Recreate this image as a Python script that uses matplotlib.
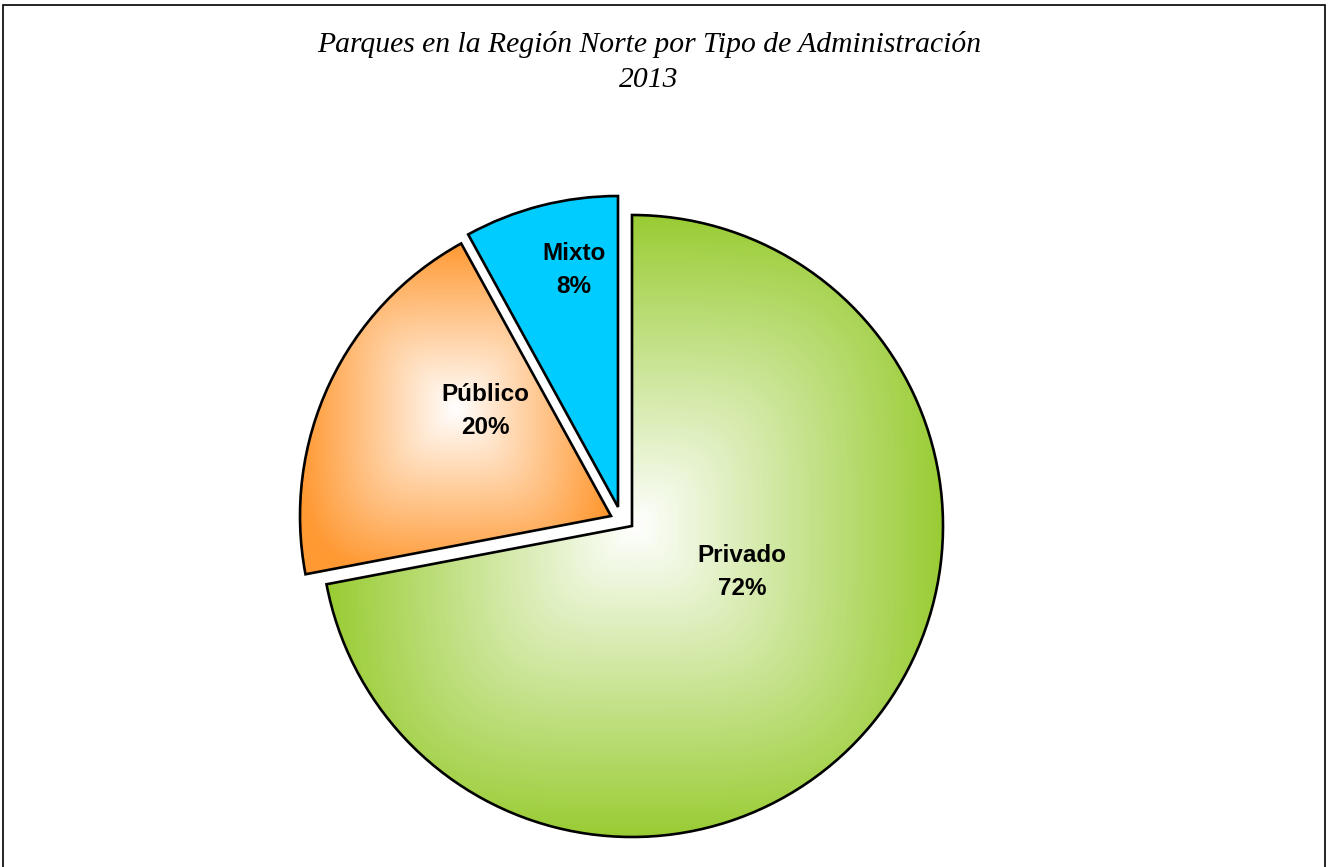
import matplotlib.pyplot as plt
from matplotlib.patches import Rectangle
import numpy as np


labels = ["Privado", "Público", "Mixto"]
shares = [72, 20, 8]
title_lines = ["Parques en la Región Norte por Tipo de Administración", "2013"]

# edge colour of each slice
edge_colors = ["#99CC33", "#FF9933", "#00CCFF"]
gradient = [True, True, False]

W, H = 1328, 867
CX, CY, R = 632, H - 526, 311
# pull-out of each slice, in pixels
shifts = [(0, 0), (-21, 10), (-14, 19)]
# label position relative to the slice centre
label_offsets = [(110, -46), (-126, 105), (-44, 237)]


def rect_gradient(ax, wedge, color):
    # white centre fading to the colour at the slice's bounding box
    ext = wedge.get_path().get_extents()
    x0, y0, x1, y1 = ext.x0, ext.y0, ext.x1, ext.y1
    xs = np.linspace(x0, x1, 400)
    ys = np.linspace(y0, y1, 400)
    X, Y = np.meshgrid(xs, ys)
    mx, my = (x0 + x1) / 2, (y0 + y1) / 2
    u = np.abs(X - mx) / ((x1 - x0) / 2)
    v = np.abs(Y - my) / ((y1 - y0) / 2)
    t = (u ** 4 + v ** 4) ** 0.25
    t = np.clip(t, 0, 1)[..., None]
    c = np.array(plt.matplotlib.colors.to_rgb(color))
    img = (1 - t) * np.ones(3) + t * c
    im = ax.imshow(img, extent=(x0, x1, y0, y1), origin="lower",
                   interpolation="bilinear", zorder=0)
    im.set_clip_path(wedge)


fig = plt.figure(figsize=(W / 100, H / 100), dpi=100)
ax = fig.add_axes([0, 0, 1, 1])

wedges, _ = ax.pie(shares, startangle=90, counterclock=False,
                   radius=R, center=(CX, CY), colors=edge_colors,
                   wedgeprops=dict(edgecolor="black", linewidth=1.9))

for w, (dx, dy), col, grad, lab, share, (lx, ly) in zip(
        wedges, shifts, edge_colors, gradient, labels, shares, label_offsets):
    w.set_center((CX + dx, CY + dy))
    w.set_zorder(2)
    if grad:
        w.set_facecolor("none")
        rect_gradient(ax, w, col)
    ax.text(CX + dx + lx, CY + dy + ly, f"{lab}\n{share}%", ha="center", va="center",
            fontsize=17.5, fontweight="bold", family="Liberation Sans",
            linespacing=1.55, zorder=3)

ax.set_xlim(0, W)
ax.set_ylim(0, H)
ax.set_aspect("equal")
ax.axis("off")

fig.text(649 / W, 1 - 45 / H, title_lines[0], ha="center", va="center",
         fontsize=21.3, style="italic", family="Liberation Serif")
fig.text(649 / W, 1 - 80 / H, title_lines[1], ha="center", va="center",
         fontsize=21.3, style="italic", family="Liberation Serif")

fig.patches.append(Rectangle((3 / W, -0.05), 1322 / W, 1.05 - 5 / H,
                             transform=fig.transFigure, fill=False,
                             edgecolor="black", linewidth=1.2))

fig.savefig("out.png", dpi=100)
